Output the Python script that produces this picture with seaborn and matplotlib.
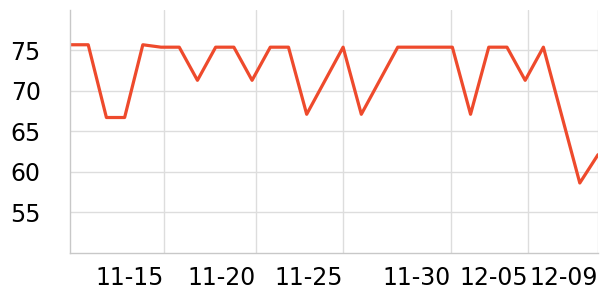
import matplotlib
matplotlib.use("Agg")
import matplotlib.pyplot as plt
import seaborn as sns
import pandas as pd

# data
dates = ["11-10", "11-11", "11-12", "11-13", "11-14", "11-15", "11-16", "11-17",
         "11-18", "11-19", "11-20", "11-21", "11-22", "11-23", "11-24", "11-25",
         "11-26", "11-27", "11-28", "11-29", "11-30", "12-01", "12-02", "12-03",
         "12-04", "12-05", "12-06", "12-07", "12-08", "12-09"]
values = [75.7, 75.7, 66.7, 66.7, 75.7, 75.4, 75.4, 71.3, 75.4, 75.4,
          71.3, 75.4, 75.4, 67.1, 71.25, 75.4, 67.1, 71.25, 75.4, 75.4,
          75.4, 75.4, 67.1, 75.4, 75.4, 71.3, 75.4, 67.0, 58.6, 62.1]
tick_labels = ["11-15", "11-20", "11-25", "11-30", "12-05", "12-09"]
y_ticks = [55, 60, 65, 70, 75]

df = pd.DataFrame({"idx": range(len(dates)), "date": dates, "value": values})
label_idx = [dates.index(t) for t in tick_labels]
# tick placement offsets (layout) to match reference gridlines
tick_offsets = [0.18, 0.2, 0.0, 0.93, 0.18, 0.0]
tick_pos = [i + o for i, o in zip(label_idx, tick_offsets)]

sns.set_theme(style="white")
plt.rcParams["font.family"] = ["DejaVu Sans"]

fig = plt.figure(figsize=(6, 3), dpi=100)
ax = fig.add_axes([70 / 600, 1 - 252.5 / 300, 528 / 600, 242.5 / 300])

sns.lineplot(data=df, x="idx", y="value", ax=ax, color="#ee4a2c", linewidth=2.3)

ax.set_xlim(0, len(dates) - 1)
ax.set_ylim(50, 80)
ax.set_yticks(y_ticks)
ax.set_xticks(tick_pos)
ax.set_xticklabels(tick_labels, ha="right")
ax.set_xlabel("")
ax.set_ylabel("")
ax.grid(True, color="#dddddd", linewidth=1)
ax.set_axisbelow(True)

for s in ["top", "right"]:
    ax.spines[s].set_visible(False)
for s in ["left", "bottom"]:
    ax.spines[s].set_color("#c8c8c8")
    ax.spines[s].set_linewidth(1)

ax.tick_params(axis="y", length=2, color="#c8c8c8", pad=19, labelsize=17, labelcolor="black")
ax.tick_params(axis="x", length=0, pad=10, labelsize=17, labelcolor="black")

fig.savefig("out.png", dpi=100)
